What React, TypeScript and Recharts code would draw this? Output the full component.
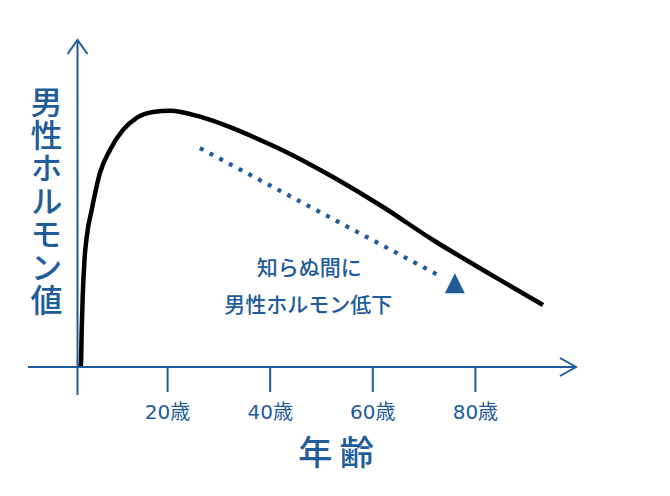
import React from 'react';
import { LineChart, Line, XAxis, YAxis, ReferenceLine, ReferenceDot } from 'recharts';

// Curve: age (years) vs relative male hormone level
const ages = [3.02, 3.12, 3.26, 3.45, 3.8, 4.29, 5.2, 6.82, 8.77, 11.31, 13.98, 17.15, 20.47, 26.32, 32.81, 38.01, 42.5, 52.24, 61.99, 71.73, 81.48, 93.18];
const hormone = [0, 1.6, 14.5, 27.3, 41.8, 51.6, 61.3, 75.8, 84.8, 92.6, 97.3, 99.6, 100.1, 97.8, 93.2, 88.7, 84.6, 74.2, 62.5, 49.6, 37.9, 24.2];

const xTicks = [20, 40, 60, 80];
const xTickSuffix = '歳';
const yTitle = '男性ホルモン値';
const xTitle = ['年', '齢'];
const noteLines = ['知らぬ間に', '男性ホルモン低下'];

// annotation anchors (data coordinates)
const trendStart = { age: 26.3, value: 85.5 };
const trendEnd = { age: 73.6, value: 35.0 };
const trendHead = { age: 76.0, value: 31.4 };
const noteAnchors = [
  { age: 47.6, value: 39.45 },
  { age: 47.4, value: 25.0 },
];
const yAxisAt = 2.44;
const xDomain = [-7.21, 99.61];
const yDomain = [0, 127.73];
const yAxisBottom = -10.94;
const yTitleAnchor = { age: -3.6, value: 64.8 };
const xTitleAnchor = { age: 52.6, value: -32.8 };

const data = ages.map((a, i) => ({ age: a, value: hormone[i] }));

const BLUE = '#1f5c99';
const FONT = '"Noto Sans CJK JP", "Noto Sans", sans-serif';
const TICK_FONT = '"DejaVu Sans", "Noto Sans CJK JP", sans-serif';

export default function App() {
  return (
    <div style={{ position: 'absolute', left: 0, top: 0, width: 670, height: 496, background: '#fff' }}>
      <LineChart width={670} height={496} data={data} margin={{ top: 40, right: 94, bottom: 69, left: 28 }}>
        <XAxis
          dataKey="age"
          type="number"
          domain={xDomain}
          allowDataOverflow
          ticks={xTicks}
          interval={0}
          height={60}
          tickSize={25}
          tickMargin={13}
          tickFormatter={(v: number) => `${v}${xTickSuffix}`}
          axisLine={{ stroke: BLUE, strokeWidth: 2 }}
          tickLine={{ stroke: BLUE, strokeWidth: 2 }}
          tick={{ fill: BLUE, fontSize: 20, fontFamily: TICK_FONT }}
        />
        <YAxis type="number" domain={yDomain} allowDataOverflow hide />
        <ReferenceLine
          segment={[{ x: yAxisAt, y: yAxisBottom }, { x: yAxisAt, y: yDomain[1] }]}
          stroke={BLUE}
          strokeWidth={2}
          ifOverflow="visible"
        />
        <ReferenceDot
          x={yAxisAt}
          y={yDomain[1]}
          ifOverflow="visible"
          shape={(p: any) => (
            <path d={`M${p.cx - 10},${p.cy + 14} L${p.cx},${p.cy} L${p.cx + 10},${p.cy + 14}`} fill="none" stroke={BLUE} strokeWidth={2} />
          )}
        />
        <ReferenceDot
          x={xDomain[1]}
          y={0}
          ifOverflow="visible"
          shape={(p: any) => (
            <path d={`M${p.cx - 16},${p.cy - 9} L${p.cx},${p.cy} L${p.cx - 16},${p.cy + 9}`} fill="none" stroke={BLUE} strokeWidth={2} />
          )}
        />
        <Line
          dataKey="value"
          type="monotone"
          stroke="#000"
          strokeWidth={4.5}
          dot={false}
          activeDot={false}
          isAnimationActive={false}
        />
        <ReferenceLine
          segment={[{ x: trendStart.age, y: trendStart.value }, { x: trendEnd.age, y: trendEnd.value }]}
          stroke={BLUE}
          strokeWidth={4.2}
          strokeDasharray="4 7"
          ifOverflow="visible"
        />
        <ReferenceDot
          x={trendHead.age}
          y={trendHead.value}
          ifOverflow="visible"
          shape={(p: any) => (
            <path d={`M${p.cx},${p.cy - 13.3} L${p.cx + 10},${p.cy + 6.7} L${p.cx - 10},${p.cy + 6.7} Z`} fill={BLUE} />
          )}
        />
        {noteLines.map((t, i) => (
          <ReferenceDot
            key={t}
            x={noteAnchors[i].age}
            y={noteAnchors[i].value}
            ifOverflow="visible"
            shape={(p: any) => (
              <text x={p.cx} y={p.cy} textAnchor="middle" dominantBaseline="central" fill={BLUE} fontSize={21} fontWeight={500} fontFamily={FONT}>
                {t}
              </text>
            )}
          />
        ))}
        <ReferenceDot
          x={yTitleAnchor.age}
          y={yTitleAnchor.value}
          ifOverflow="visible"
          shape={(p: any) => (
            <text
              x={p.cx}
              y={p.cy}
              textAnchor="middle"
              fill={BLUE}
              fontSize={32}
              fontWeight={500}
              fontFamily={FONT}
              letterSpacing={1}
              style={{ writingMode: 'vertical-rl' }}
            >
              {yTitle}
            </text>
          )}
        />
        <ReferenceDot
          x={xTitleAnchor.age}
          y={xTitleAnchor.value}
          ifOverflow="visible"
          shape={(p: any) => (
            <g>
              {xTitle.map((c, i) => (
                <text key={i} x={p.cx + (i === 0 ? -19.5 : 22)} y={p.cy} textAnchor="middle" dominantBaseline="central" fill={BLUE} fontSize={34} fontWeight={500} fontFamily={FONT}>
                  {c}
                </text>
              ))}
            </g>
          )}
        />
      </LineChart>
    </div>
  );
}
